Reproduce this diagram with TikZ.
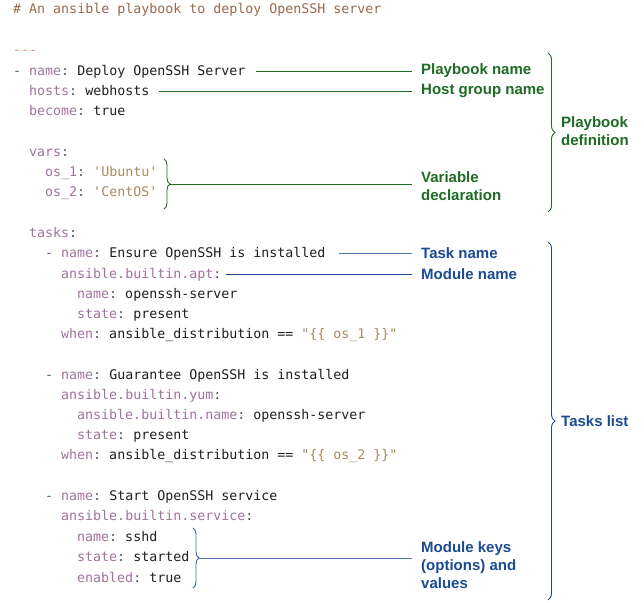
\documentclass[tikz,border=0pt]{standalone}
\usepackage{fontspec}
\setmonofont{DejaVu Sans Mono}
\setsansfont{Liberation Sans}
\usetikzlibrary{decorations.pathreplacing}

\definecolor{ycom}{HTML}{9A6B4C}
\definecolor{ydoc}{HTML}{D08E5E}
\definecolor{ykeycol}{HTML}{A2729E}
\definecolor{ystrcol}{HTML}{A88B62}
\definecolor{ygray}{HTML}{5A5A5A}
\definecolor{yval}{HTML}{1F1F1F}
\definecolor{ggreen}{HTML}{1E6B24}
\definecolor{bblue}{HTML}{1B4C91}
\definecolor{lblue}{HTML}{4F78B0}

\newcommand{\ykey}[1]{\textcolor{ykeycol}{#1}\textcolor{ygray}{:}}
\newcommand{\ystr}[1]{\textcolor{ystrcol}{#1}}
\newcommand{\ydash}{\textcolor{ygray}{-}}

\tikzstyle{code} = [anchor=west, inner sep=0pt, text height=10pt, text depth=2pt,
    font=\ttfamily\fontsize{13.3}{16}\selectfont, text=yval]
\tikzstyle{gnote} = [anchor=west, inner sep=3pt, align=left,
    font=\sffamily\bfseries\fontsize{15}{18}\selectfont, text=ggreen]
\tikzstyle{bnote} = [gnote, text=bblue]
\tikzstyle{gline} = [ggreen, line width=0.9pt]
\tikzstyle{bline} = [bblue, line width=0.9pt]
\tikzstyle{gbrace} = [gline, decorate, decoration={brace,amplitude=6pt}]
\tikzstyle{bbrace} = [bline, lblue!60!bblue, decorate, decoration={brace,amplitude=6pt}]

\begin{document}
\begin{tikzpicture}[x=1pt,y=-1pt]
\fill[white] (0,0) rectangle (644,602);
\useasboundingbox (0,0) rectangle (644,602);

% playbook header
\node[code] (l0) at (13,10) {\textcolor{ycom}{\# An ansible playbook to deploy OpenSSH server}};
\node[code] (l2) at (13,50) {\textcolor{ydoc}{---}};
\node[code] (l3) at (13,71) {\ydash{} \ykey{name} Deploy OpenSSH Server};
\node[code] (l4) at (29,91) {\ykey{hosts} webhosts};
\node[code] (l5) at (29,111) {\ykey{become} true};
\node[code] (l7) at (29,152) {\ykey{vars}};
\node[code] (l8) at (45,172) {\ykey{os\_1} \ystr{'Ubuntu'}};
\node[code] (l9) at (45,192) {\ykey{os\_2} \ystr{'CentOS'}};

% tasks
\node[code] (l11) at (29,233) {\ykey{tasks}};
\node[code] (l12) at (45,253) {\ydash{} \ykey{name} Ensure OpenSSH is installed};
\node[code] (l13) at (61,274) {\ykey{ansible.builtin.apt}};
\node[code] (l14) at (77,294) {\ykey{name} openssh-server};
\node[code] (l15) at (77,314) {\ykey{state} present};
\node[code] (l16) at (61,334) {\ykey{when} ansible\_distribution == \ystr{"\{\{ os\_1 \}\}"}};

\node[code] (l18) at (45,375) {\ydash{} \ykey{name} Guarantee OpenSSH is installed};
\node[code] (l19) at (61,395) {\ykey{ansible.builtin.yum}};
\node[code] (l20) at (77,415) {\ykey{ansible.builtin.name} openssh-server};
\node[code] (l21) at (77,435) {\ykey{state} present};
\node[code] (l22) at (61,455) {\ykey{when} ansible\_distribution == \ystr{"\{\{ os\_2 \}\}"}};

\node[code] (l24) at (45,496) {\ydash{} \ykey{name} Start OpenSSH service};
\node[code] (l25) at (61,516) {\ykey{ansible.builtin.service}};
\node[code] (l26) at (77,537) {\ykey{name} sshd};
\node[code] (l27) at (77,557) {\ykey{state} started};
\node[code] (l28) at (77,578) {\ykey{enabled} true};

% notes
\node[gnote] (pbname) at (418,71) {Playbook name};
\node[gnote] (hostgrp) at (418,91) {Host group name};
\node[gnote] (vardecl) at (418,186) {Variable\\declaration};
\node[gnote] (pbdef) at (558,131) {Playbook\\definition};
\node[bnote] (taskname) at (418,253) {Task name};
\node[bnote] (modname) at (418,274) {Module name};
\node[bnote] (modkeys) at (418,565) {Module keys\\(options) and\\values};
\node[bnote] (tasklist) at (558,421) {Tasks list};

\coordinate (vtip) at (170,184);
\coordinate (ktip) at (199,558);

\draw [gline,shorten <=10pt,shorten >=6pt] (l3.east) -- (pbname.west);
\draw [gline,shorten <=9pt,shorten >=6pt] (l4.east) -- (hostgrp.west);
\draw [gbrace] (164,159) -- (164,209);
\draw [gline,shorten >=6pt] (vtip) -- (vtip -| vardecl.west);
\draw [gbrace,decoration={amplitude=7pt}] (548,53) -- (548,212);

\draw [bline,lblue,shorten <=13pt,shorten >=6pt] (l12.east) -- (taskname.west);
\draw [bline,shorten <=4pt,shorten >=6pt] (l13.east) -- (modname.west);
\draw [bbrace] (193,528) -- (193,588);
\draw [bline,lblue,shorten >=6pt] (ktip) -- (ktip -| modkeys.west);
\draw [bbrace,bblue,decoration={amplitude=7pt}] (548,242) -- (548,600);
\end{tikzpicture}
\end{document}
